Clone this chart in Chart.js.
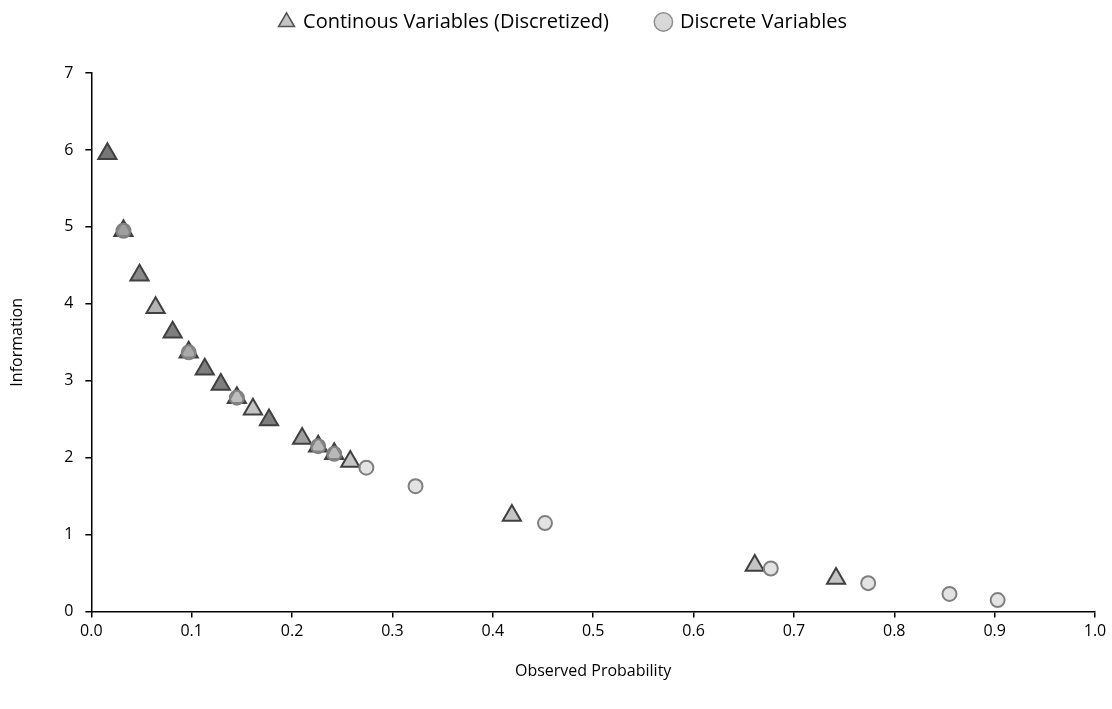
<!DOCTYPE html>
<html>
<head>
<meta charset="utf-8">
<script src="https://cdn.jsdelivr.net/npm/chart.js@4"></script>
<style>
  html, body { margin: 0; padding: 0; background: #fff; }
  #wrap { width: 1112px; height: 709px; }
</style>
</head>
<body>
<div id="wrap"><canvas id="infoChart" width="1112" height="709"></canvas></div>
<script>
// Continuous variables (discretized) - observed probability / information
var contProb = [0.016, 0.032, 0.048, 0.064, 0.081, 0.097, 0.113, 0.129, 0.145, 0.161,
                0.177, 0.210, 0.226, 0.242, 0.258, 0.419, 0.661, 0.742];
var contInfo = [5.95, 4.95, 4.37, 3.95, 3.63, 3.37, 3.15, 2.95, 2.78, 2.63,
                2.49, 2.25, 2.15, 2.05, 1.95, 1.25, 0.60, 0.43];

// Discrete variables
var discProb = [0.032, 0.097, 0.145, 0.226, 0.242, 0.274, 0.323, 0.452, 0.677, 0.774, 0.855, 0.903];
var discInfo = [4.95, 3.37, 2.78, 2.15, 2.05, 1.87, 1.63, 1.15, 0.56, 0.37, 0.23, 0.15];

var xTicks = [0, 0.1, 0.2, 0.3, 0.4, 0.5, 0.6, 0.7, 0.8, 0.9, 1.0];
var yTicks = [0, 1, 2, 3, 4, 5, 6, 7];

// darker triangles are where several points sit on top of each other
var contShade = ['#767676', '#767676', '#8a8a8a', '#b4b4b4', '#7e7e7e', '#8a8a8a', '#7e7e7e', '#7e7e7e', '#b4b4b4', '#c4c4c4',
                 '#7e7e7e', '#a0a0a0', '#a8a8a8', '#a8a8a8', '#c4c4c4', '#c4c4c4', '#c4c4c4', '#c4c4c4'];

function toPoints(xs, ys) {
    var pts = [];
    for (var i = 0; i < xs.length; i++) {
        pts.push({ x: xs[i], y: ys[i] });
    }
    return pts;
}

Chart.defaults.font.family = "'Open Sans', 'Noto Sans', sans-serif";
Chart.defaults.color = '#000';

// extra room between legend and plot, and nudge legend a bit right
var legendMargin = {
    id: 'legendMargin',
    beforeInit: function (chart) {
        var fit = chart.legend.fit;
        chart.legend.fit = function () {
            fit.bind(chart.legend)();
            this.height += 31;
        };
    },
    afterLayout: function (chart) {
        chart.legend.left += 14;
        chart.legend.right += 14;
    }
};

var ctx = document.getElementById('infoChart').getContext('2d');
var infoChart = new Chart(ctx, {
    type: 'scatter',
    data: {
        datasets: [
            {
                label: 'Continous Variables (Discretized)',
                data: toPoints(contProb, contInfo),
                pointStyle: 'triangle',
                pointRadius: 10.5,
                pointHoverRadius: 10.5,
                backgroundColor: contShade,
                borderColor: '#404040',
                borderWidth: 2,
                order: 1
            },
            {
                label: 'Discrete Variables',
                data: toPoints(discProb, discInfo),
                pointStyle: 'circle',
                pointRadius: 7,
                pointHoverRadius: 7,
                backgroundColor: 'rgba(200, 200, 200, 0.5)',
                borderColor: '#808080',
                borderWidth: 2,
                order: 0
            }
        ]
    },
    options: {
        responsive: false,
        animation: false,
        layout: { padding: { left: 4, right: 17, top: -36, bottom: 24 } },
        plugins: {
            legend: {
                position: 'top',
                labels: {
                    usePointStyle: true,
                    boxWidth: 13,
                    boxHeight: 13,
                    padding: 48,
                    font: { size: 20 },
                    sort: function (a, b) { return a.datasetIndex - b.datasetIndex; },
                    generateLabels: function (chart) {
                        var items = Chart.defaults.plugins.legend.labels.generateLabels(chart);
                        items.forEach(function (it) {
                            if (it.datasetIndex === 0) {
                                it.fillStyle = '#c4c4c4';
                                it.strokeStyle = '#505050';
                            } else {
                                it.fillStyle = '#d8d8d8';
                                it.strokeStyle = '#909090';
                            }
                            it.lineWidth = 1.5;
                        });
                        return items;
                    }
                }
            },
            tooltip: { enabled: false }
        },
        scales: {
            x: {
                type: 'linear',
                min: 0,
                max: 1,
                afterBuildTicks: function (axis) {
                    axis.ticks = xTicks.map(function (v) { return { value: v }; });
                },
                ticks: {
                    font: { size: 16 },
                    padding: 4,
                    callback: function (v) { return Number(v).toFixed(1); }
                },
                grid: { drawOnChartArea: false, drawTicks: true, tickLength: 6, color: '#000', lineWidth: 1.5 },
                border: { color: '#000', width: 1.5 },
                title: { display: true, text: 'Observed Probability', font: { size: 16 }, padding: { top: 17 } }
            },
            y: {
                min: 0,
                max: 7,
                afterBuildTicks: function (axis) {
                    axis.ticks = yTicks.map(function (v) { return { value: v }; });
                },
                ticks: { font: { size: 16 }, padding: 12 },
                grid: { drawOnChartArea: false, drawTicks: true, tickLength: 6, color: '#000', lineWidth: 1.5 },
                border: { color: '#000', width: 1.5 },
                title: { display: true, text: 'Information', font: { size: 16 }, padding: { bottom: 25 } }
            }
        }
    },
    plugins: [legendMargin]
});
</script>
</body>
</html>
